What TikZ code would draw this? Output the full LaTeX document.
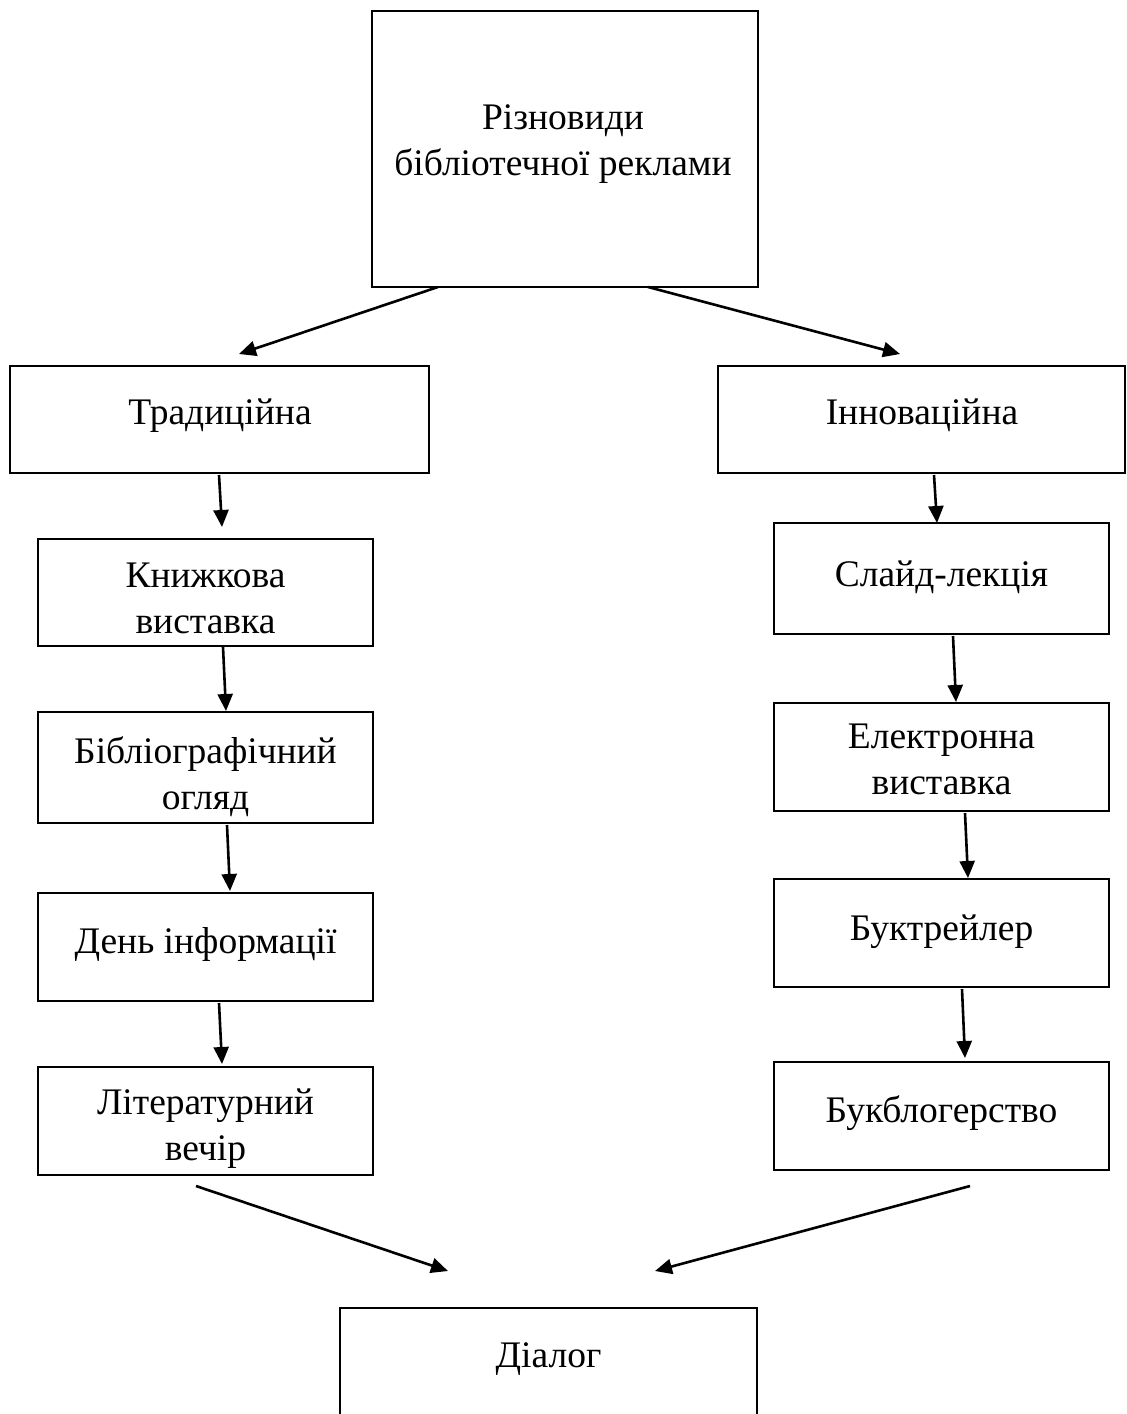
\documentclass[tikz,border=0pt]{standalone}
\usepackage{fontspec}
\setmainfont{Liberation Serif}
\usetikzlibrary{arrows.meta}
\tikzset{
  boxn/.style={draw, line width=2.8pt, inner sep=0pt, outer sep=0pt},
  txt/.style={inner sep=0pt, align=center, font=\fontsize{37.5}{46}\selectfont},
  arr/.style={line width=2.6pt, -{Triangle[length=17pt,width=15pt]}}
}
\begin{document}
\begin{tikzpicture}[x=1pt,y=-1pt]
\useasboundingbox (0,0) rectangle (1127,1414);
% boxes
\node[boxn, minimum width=386pt, minimum height=276pt] (top) at (565,149) {};
\node[boxn, minimum width=419pt, minimum height=107pt] (trad) at (219.5,419.5) {};
\node[boxn, minimum width=407pt, minimum height=107pt] (innov) at (921.5,419.5) {};
\node[boxn, minimum width=335pt, minimum height=107pt] (knyzh) at (205.5,592.5) {};
\node[boxn, minimum width=335pt, minimum height=111pt] (bibl) at (205.5,767.5) {};
\node[boxn, minimum width=335pt, minimum height=108pt] (den) at (205.5,947) {};
\node[boxn, minimum width=335pt, minimum height=108pt] (lit) at (205.5,1121) {};
\node[boxn, minimum width=335pt, minimum height=111pt] (slide) at (941.5,578.5) {};
\node[boxn, minimum width=335pt, minimum height=108pt] (elec) at (941.5,757) {};
\node[boxn, minimum width=335pt, minimum height=108pt] (buktr) at (941.5,933) {};
\node[boxn, minimum width=335pt, minimum height=108pt] (bukbl) at (941.5,1116) {};
\node[boxn, minimum width=417pt, minimum height=124pt] (dial) at (548.5,1370) {};
% texts
\node[txt] (topT) at (563,144.5) {Різновиди\\бібліотечної реклами};
\node[txt] (tradT) at (220,415.5) {Традиційна};
\node[txt] (innovT) at (922,415.5) {Інноваційна};
\node[txt] (knyzhT) at (205.5,598) {Книжкова\\виставка};
\node[txt] (biblT) at (205.5,777) {Бібліографічний\\огляд};
\node[txt] (denT) at (205.5,944) {День інформації};
\node[txt] (litT) at (205.5,1129) {Літературний\\вечір};
\node[txt] (slideT) at (941.5,577.5) {Слайд-лекція};
\node[txt] (elecT) at (941.5,759.5) {Електронна\\виставка};
\node[txt] (buktrT) at (941.5,932) {Буктрейлер};
\node[txt] (bukblT) at (941.5,1113) {Букблогерство};
\node[txt] (dialT) at (548.5,1359) {Діалог};
% arrow end points
\coordinate (s1) at (438,287);   \coordinate (e1) at (239,354);
\coordinate (s2) at (648,287);   \coordinate (e2) at (900,354);
\coordinate (sl1) at (219,475);  \coordinate (el1) at (222,527);
\coordinate (sl2) at (223,647);  \coordinate (el2) at (226,711);
\coordinate (sl3) at (227,825);  \coordinate (el3) at (230,891);
\coordinate (sl4) at (219,1003); \coordinate (el4) at (222,1064);
\coordinate (sr1) at (934,475);  \coordinate (er1) at (937,523);
\coordinate (sr2) at (953,636);  \coordinate (er2) at (956,702);
\coordinate (sr3) at (965,813);  \coordinate (er3) at (968,878);
\coordinate (sr4) at (962,989);  \coordinate (er4) at (965,1058);
\coordinate (sb1) at (196,1186); \coordinate (eb1) at (448,1271);
\coordinate (sb2) at (970,1186); \coordinate (eb2) at (655,1271);
\draw[arr] (s1) -- (e1);
\draw[arr] (s2) -- (e2);
\draw[arr] (sl1) -- (el1);
\draw[arr] (sl2) -- (el2);
\draw[arr] (sl3) -- (el3);
\draw[arr] (sl4) -- (el4);
\draw[arr] (sr1) -- (er1);
\draw[arr] (sr2) -- (er2);
\draw[arr] (sr3) -- (er3);
\draw[arr] (sr4) -- (er4);
\draw[arr] (sb1) -- (eb1);
\draw[arr] (sb2) -- (eb2);
\end{tikzpicture}
\end{document}
